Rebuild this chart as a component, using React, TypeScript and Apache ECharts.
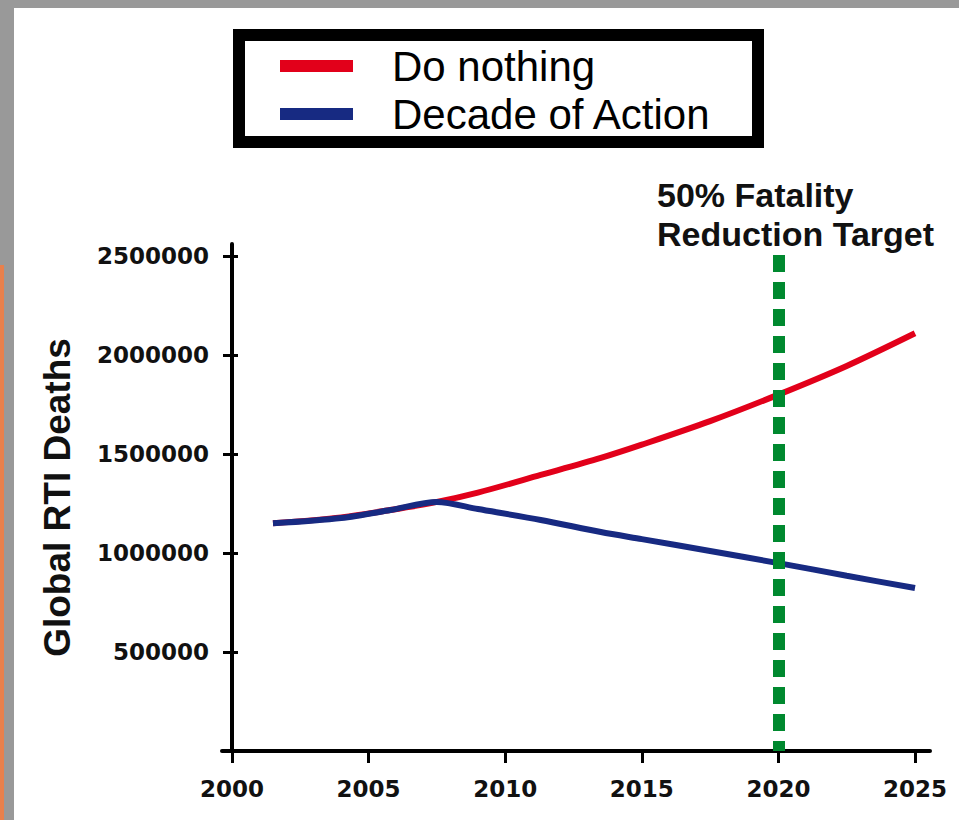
import React, { useEffect, useRef } from "react";
import * as echarts from "echarts";

const years = [2001.5, 2004, 2005.8, 2007.5, 2009, 2011.3, 2013.5, 2015, 2017.5, 2020, 2022.5, 2025];
const doNothing = [1150000, 1180000, 1217000, 1258000, 1305000, 1394000, 1480000, 1547000, 1666000, 1800000, 1945000, 2110000];
const decadeOfAction = [1150000, 1177000, 1217000, 1258000, 1222000, 1167000, 1106000, 1070000, 1010000, 949000, 885000, 823000];
const xTicks = [2000, 2005, 2010, 2015, 2020, 2025];
const yTicks = [0, 500000, 1000000, 1500000, 2000000, 2500000];
const targetYear = 2020;
const targetTop = 2505000;
const seriesNames = ["Do nothing", "Decade of Action"];

export default function App() {
  const ref = useRef<HTMLDivElement>(null);
  useEffect(() => {
    document.body.style.margin = "0";
    const chart = echarts.init(ref.current!, null, { renderer: "svg" });
    const labelFont = {
      fontFamily: "DejaVu Sans",
      fontWeight: "bold" as const,
      fontSize: 23,
      color: "#111",
    };
    const yBase = {
      type: "value" as const,
      position: "left" as const,
      min: 0,
      max: 2560600,
      offset: -10,
      splitLine: { show: false },
    };
    chart.setOption({
      animation: false,
      backgroundColor: "#fff",
      grid: { left: 222, right: 29, top: 244, bottom: 69 },
      legend: {
        data: seriesNames.map((n) => ({ name: n, icon: "rect" })),
        orient: "vertical",
        left: 275,
        top: 40,
        itemWidth: 73,
        itemHeight: 12,
        itemGap: 6,
        selectedMode: false,
        itemStyle: { borderWidth: 0 },
        lineStyle: { width: 0 },
        textStyle: {
          fontFamily: "Liberation Sans",
          fontSize: 42,
          lineHeight: 42,
          color: "#000",
          padding: [0, 0, 0, 34],
        },
      },
      xAxis: {
        type: "value",
        min: 1999.634,
        max: 2025.549,
        splitLine: { show: false },
        axisLine: { lineStyle: { color: "#000", width: 4 } },
        axisTick: { customValues: xTicks, length: 12, lineStyle: { color: "#000", width: 3 } },
        axisLabel: { customValues: xTicks, margin: 26, formatter: (v: number) => String(v), ...labelFont },
      },
      yAxis: [
        {
          ...yBase,
          name: "Global RTI Deaths",
          nameLocation: "middle",
          nameGap: 156,
          nameTextStyle: { fontFamily: "Liberation Sans", fontWeight: "bold", fontSize: 37, color: "#111" },
          axisLine: { show: true, lineStyle: { color: "#000", width: 4 } },
          axisTick: { show: true, customValues: yTicks, length: 9, lineStyle: { color: "#000", width: 3 } },
          axisLabel: { customValues: yTicks, margin: 23, formatter: (v: number) => (v === 0 ? "" : String(v)), ...labelFont },
        },
        {
          ...yBase,
          axisLine: { show: false },
          axisTick: { show: true, inside: true, customValues: yTicks, length: 6, lineStyle: { color: "#000", width: 3 } },
          axisLabel: { show: false },
        },
      ],
      series: [
        {
          name: seriesNames[0],
          type: "line",
          data: years.map((y, i) => [y, doNothing[i]]),
          smooth: 0.3,
          showSymbol: false,
          color: "#e2001a",
          lineStyle: { color: "#e2001a", width: 6 },
          itemStyle: { color: "#e2001a" },
          z: 2,
        },
        {
          name: seriesNames[1],
          type: "line",
          data: years.map((y, i) => [y, decadeOfAction[i]]),
          smooth: 0.3,
          showSymbol: false,
          color: "#172a82",
          lineStyle: { color: "#172a82", width: 6 },
          itemStyle: { color: "#172a82" },
          z: 3,
        },
        {
          name: "target",
          type: "line",
          data: [],
          z: 5,
          markLine: {
            silent: true,
            symbol: ["none", "none"],
            label: { show: false },
            lineStyle: { color: "#00892f", width: 12, type: [17, 10], opacity: 1 },
            emphasis: { disabled: true },
            data: [[{ coord: [targetYear, targetTop] }, { coord: [targetYear, 0] }]],
          },
        },
      ],
      graphic: [
        { type: "rect", shape: { x: 0, y: 0, width: 959, height: 8 }, style: { fill: "#999999" }, silent: true },
        { type: "rect", shape: { x: 0, y: 0, width: 14, height: 820 }, style: { fill: "#999999" }, silent: true },
        { type: "rect", shape: { x: 0, y: 265, width: 4, height: 555 }, style: { fill: "#e8804c" }, silent: true },
        {
          type: "rect",
          shape: { x: 239, y: 35, width: 519, height: 107 },
          style: { fill: "#fff", stroke: "#000", lineWidth: 12 },
          silent: true,
          z: -1,
        },
        {
          type: "text",
          left: 657,
          top: 175,
          silent: true,
          style: {
            text: "50% Fatality\nReduction Target",
            fontFamily: "Liberation Sans",
            fontWeight: "bold",
            fontSize: 34,
            lineHeight: 39,
            fill: "#111",
          },
        },
      ],
    });
    return () => chart.dispose();
  }, []);
  return <div ref={ref} style={{ width: 959, height: 820 }} />;
}
